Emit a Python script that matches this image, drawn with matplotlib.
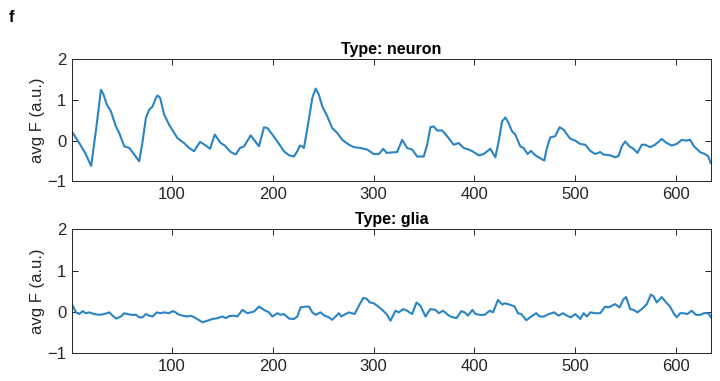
import numpy as np
import matplotlib
matplotlib.use("Agg")
import matplotlib.pyplot as plt

plt.rcParams['font.family'] = ['Liberation Sans', 'DejaVu Sans']

# neuron trace, points (frame index, avg F)
neuron_x = [2, 8, 14, 20, 25, 29.7, 32, 35.6, 39.6, 44.5, 47.8, 52.8, 57.8, 62.7, 67.6,
            71, 74.3, 77.5, 80.9, 84.2, 85.8, 88.4, 92.4, 97.3, 102.3, 105.6, 112.2, 117.1,
            122, 128, 132.5, 137.9, 142.6, 148.5, 152.5, 158.4, 163.4, 167.6, 171.6, 178.2,
            181.5, 186.4, 191.4, 194.7, 199.7, 204.6, 211.2, 216.2, 221.1, 224.4, 227, 229.4,
            231, 235, 239.3, 242.6, 245.8, 249.2, 254.1, 259, 264, 269, 275.6, 280.5, 287,
            293.8, 300.3, 305.3, 309.6, 312.9, 323.4, 328.4, 333.3, 338.3, 343.3, 349.8,
            353.2, 356.4, 359.7, 363, 368, 373, 379.5, 384.5, 389.4, 394.4, 398, 404.3, 409.2,
            415.8, 420.8, 424.1, 427.4, 430.7, 434, 437.3, 440.6, 445.5, 448.8, 452.8, 456.1,
            460.4, 465.3, 469.3, 471.9, 475.2, 480.2, 484.5, 488.4, 495, 500, 505, 509.9,
            514.9, 519.8, 524.8, 528, 534.7, 539.6, 542.9, 546.2, 549.5, 553.8, 557.8, 561.7,
            566, 569.3, 574.3, 579.2, 585.8, 590.8, 595.7, 600.7, 605.6, 609.9, 613.9, 617.8,
            623.8, 628.7, 632, 634.3]
neuron_y = [0.18, -0.05, -0.3, -0.62, 0.3, 1.25, 1.15, 0.88, 0.72, 0.35, 0.19, -0.14, -0.18,
            -0.34, -0.51, -0.02, 0.56, 0.76, 0.84, 1.05, 1.11, 1.05, 0.64, 0.39, 0.19, 0.06,
            -0.06, -0.18, -0.26, -0.03, -0.1, -0.2, 0.15, -0.06, -0.12, -0.28, -0.34, -0.18,
            -0.14, 0.13, 0.02, -0.14, 0.33, 0.31, 0.15, -0.02, -0.26, -0.36, -0.39, -0.26,
            -0.12, -0.14, -0.18, 0.39, 1.05, 1.28, 1.13, 0.84, 0.6, 0.31, 0.19, 0.02, -0.1,
            -0.16, -0.18, -0.22, -0.33, -0.33, -0.2, -0.3, -0.28, 0.02, -0.18, -0.22, -0.39,
            -0.39, -0.1, 0.33, 0.35, 0.25, 0.25, 0.11, -0.1, -0.06, -0.18, -0.22, -0.26, -0.36,
            -0.33, -0.2, -0.41, -0.02, 0.47, 0.57, 0.43, 0.23, 0.15, -0.14, -0.18, -0.33, -0.25,
            -0.36, -0.43, -0.49, -0.18, 0.08, 0.11, 0.33, 0.27, 0.05, 0.0, -0.08, -0.1, -0.25,
            -0.33, -0.28, -0.34, -0.36, -0.41, -0.38, -0.14, -0.02, -0.14, -0.2, -0.3, -0.1,
            -0.1, -0.16, -0.1, 0.04, -0.06, -0.12, -0.08, 0.02, 0.0, 0.02, -0.14, -0.28, -0.33,
            -0.39, -0.55]

# glia trace
glia_x = [1.7, 5, 8.3, 11.6, 14.9, 18, 23, 28, 33, 38, 41.3, 44.6, 49.5, 52.8, 56.1, 60,
          64.4, 67.7, 71, 74.3, 77.6, 80.9, 85.1, 88.4, 92.4, 97.4, 100.7, 104, 105.6, 110.6,
          115.5, 118.8, 123.8, 127, 130.4, 135.3, 140.3, 145.2, 150.2, 153.5, 156.8, 161.7,
          165, 170, 174.9, 178.2, 181.5, 186.4, 191.4, 196.4, 199.7, 204.6, 207.9, 211.2,
          216.2, 221.1, 224.4, 227.7, 232.7, 236, 239.3, 242.6, 247.5, 251.5, 255.8, 259,
          262.4, 265.7, 268, 272.3, 275.6, 281.2, 285.5, 289.8, 293.1, 296.4, 300.3, 303.6,
          308.6, 312.9, 316.8, 321.8, 325.1, 329.4, 333.3, 338.3, 342.6, 346.5, 351.5, 356.4,
          361.4, 364.7, 369, 372.9, 376.2, 382.2, 387.1, 390.4, 393.7, 398, 401.3, 405.3,
          410.2, 415.2, 418.5, 423.4, 427.7, 430, 435, 439.9, 443.2, 446.5, 451.5, 456.4,
          461.4, 464.7, 469, 473.9, 479.2, 483.5, 487.8, 491.7, 495.7, 500, 505, 508.3, 511.6,
          514.9, 519.8, 524.8, 529.7, 533, 536.3, 539.6, 543.9, 547.9, 550.5, 554.5, 557.8,
          561.7, 566, 571, 575, 577.6, 580.9, 585.8, 590.1, 594.1, 598, 600.7, 604, 607.3,
          611.2, 615.5, 619.8, 623.8, 627.7, 632, 634.7]
glia_y = [0.15, -0.01, -0.05, 0.02, -0.03, -0.01, -0.05, -0.07, -0.05, -0.01, -0.09, -0.16,
          -0.11, -0.03, -0.05, -0.07, -0.07, -0.13, -0.13, -0.05, -0.09, -0.11, -0.01, -0.03,
          -0.01, -0.03, 0.02, -0.01, -0.05, -0.09, -0.11, -0.09, -0.15, -0.2, -0.25, -0.21,
          -0.17, -0.15, -0.11, -0.15, -0.1, -0.09, -0.11, 0.05, -0.03, -0.01, 0.01, 0.13, 0.05,
          -0.01, -0.11, -0.03, -0.07, -0.05, -0.16, -0.17, -0.11, 0.11, 0.13, 0.13, -0.01,
          -0.07, -0.01, -0.09, -0.13, -0.19, -0.11, -0.03, -0.11, -0.05, -0.01, -0.05, 0.15,
          0.34, 0.32, 0.23, 0.21, 0.15, 0.05, -0.05, -0.21, 0.03, -0.01, 0.07, 0.03, -0.05,
          0.23, 0.15, -0.11, 0.07, 0.05, -0.03, 0.03, -0.05, -0.11, -0.15, 0.02, -0.01, -0.09,
          0.05, -0.05, -0.07, -0.07, 0.03, -0.01, 0.29, 0.18, 0.21, 0.18, 0.13, -0.03, -0.05,
          -0.2, -0.11, -0.03, -0.11, -0.11, -0.05, -0.01, -0.09, -0.03, -0.09, -0.13, -0.05,
          -0.17, -0.03, -0.11, -0.01, -0.03, -0.03, 0.13, 0.11, 0.15, 0.19, 0.11, 0.31, 0.36,
          0.07, 0.05, -0.01, 0.07, 0.19, 0.42, 0.38, 0.23, 0.36, 0.23, 0.13, -0.05, -0.13,
          -0.03, -0.03, -0.05, 0.03, -0.07, -0.07, -0.03, -0.03, -0.13]

titles = ['Type: neuron', 'Type: glia']
xticks = [100, 200, 300, 400, 500, 600]
yticks = [-1, 0, 1, 2]

fig = plt.figure(figsize=(7.2, 3.81), dpi=100)
ax1 = fig.add_axes([0.1, 0.524, 0.888, 0.3205])
ax2 = fig.add_axes([0.1, 0.0727, 0.888, 0.3255])

dark = '#262626'
for ax, xs, ys, t in [(ax1, neuron_x, neuron_y, titles[0]), (ax2, glia_x, glia_y, titles[1])]:
    ax.plot(xs, ys, color='#2a84c4', lw=1.5)
    ax.set_xlim(1, 635)
    ax.set_ylim(-1, 2)
    ax.set_xticks(xticks)
    ax.set_yticks(yticks)
    ax.tick_params(direction='in', top=True, right=True, length=4, width=0.7,
                   colors=dark, labelsize=12, pad=4)
    for s in ax.spines.values():
        s.set_color(dark)
        s.set_linewidth(0.7)
    ax.set_ylabel('avg F (a.u.)', fontsize=12, color=dark, labelpad=2)
    ax.set_title(t, fontsize=11.5, fontweight='bold', pad=4)

fig.text(0.012, 0.955, 'f', fontsize=12, fontweight='bold', va='center')

fig.savefig('out.png', dpi=100)
